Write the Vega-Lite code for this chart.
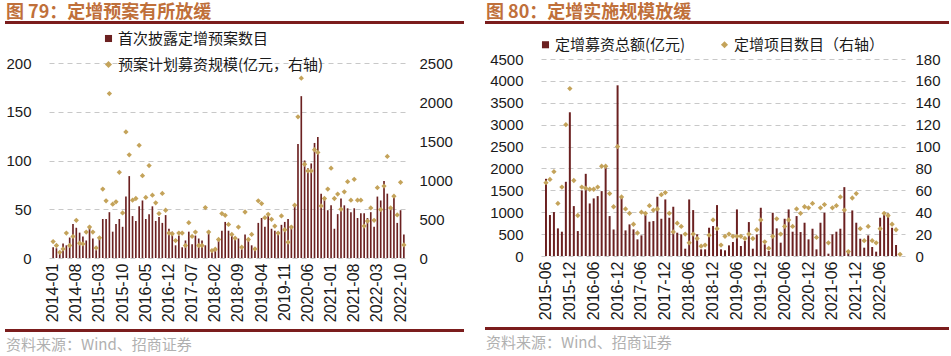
{
  "$schema": "https://vega.github.io/schema/vega-lite/v6.json",
  "background": "white",
  "padding": {"left": 5, "top": 2, "right": 0, "bottom": 0},
  "config": {"view": {"stroke": null}, "font": "Liberation Sans"},
  "resolve": {"scale": {"color": "independent", "shape": "independent"}, "legend": {"color": "independent", "shape": "independent"}},
  "datasets": {
    "left": [
      {"m":"2014-01","n":11,"v":211},{"m":"2014-02","n":10,"v":160},{"m":"2014-03","n":7,"v":73},{"m":"2014-04","n":15,"v":116},{"m":"2014-05","n":13,"v":319},{"m":"2014-06","n":21,"v":160},{"m":"2014-07","n":35,"v":276},{"m":"2014-08","n":31,"v":483},{"m":"2014-09","n":26,"v":190},{"m":"2014-10","n":22,"v":181},{"m":"2014-11","n":18,"v":332},{"m":"2014-12","n":33,"v":397},
      {"m":"2015-01","n":20,"v":332},{"m":"2015-02","n":8,"v":129},{"m":"2015-03","n":20,"v":259},{"m":"2015-04","n":40,"v":884},{"m":"2015-05","n":40,"v":733},{"m":"2015-06","n":47,"v":2108},{"m":"2015-07","n":27,"v":690},{"m":"2015-08","n":35,"v":720},{"m":"2015-09","n":40,"v":1099},{"m":"2015-10","n":32,"v":578},{"m":"2015-11","n":63,"v":1616},{"m":"2015-12","n":84,"v":1323},
      {"m":"2016-01","n":43,"v":741},{"m":"2016-02","n":38,"v":763},{"m":"2016-03","n":53,"v":1444},{"m":"2016-04","n":59,"v":1056},{"m":"2016-05","n":40,"v":776},{"m":"2016-06","n":45,"v":1185},{"m":"2016-07","n":53,"v":806},{"m":"2016-08","n":38,"v":707},{"m":"2016-09","n":42,"v":569},{"m":"2016-10","n":36,"v":828},{"m":"2016-11","n":44,"v":612},{"m":"2016-12","n":30,"v":319},
      {"m":"2017-01","n":27,"v":310},{"m":"2017-02","n":13,"v":224},{"m":"2017-03","n":23,"v":319},{"m":"2017-04","n":11,"v":319},{"m":"2017-05","n":18,"v":160},{"m":"2017-06","n":27,"v":453},{"m":"2017-07","n":14,"v":276},{"m":"2017-08","n":23,"v":332},{"m":"2017-09","n":20,"v":160},{"m":"2017-10","n":18,"v":160},{"m":"2017-11","n":13,"v":647},{"m":"2017-12","n":28,"v":332},
      {"m":"2018-01","n":6,"v":95},{"m":"2018-02","n":8,"v":112},{"m":"2018-03","n":18,"v":237},{"m":"2018-04","n":28,"v":569},{"m":"2018-05","n":37,"v":547},{"m":"2018-06","n":28,"v":431},{"m":"2018-07","n":24,"v":302},{"m":"2018-08","n":21,"v":254},{"m":"2018-09","n":20,"v":397},{"m":"2018-10","n":9,"v":138},{"m":"2018-11","n":24,"v":590},{"m":"2018-12","n":20,"v":237},
      {"m":"2019-01","n":13,"v":302},{"m":"2019-02","n":10,"v":116},{"m":"2019-03","n":36,"v":733},{"m":"2019-04","n":41,"v":698},{"m":"2019-05","n":32,"v":517},{"m":"2019-06","n":44,"v":560},{"m":"2019-07","n":30,"v":496},{"m":"2019-08","n":28,"v":409},{"m":"2019-09","n":27,"v":319},{"m":"2019-10","n":34,"v":539},{"m":"2019-11","n":37,"v":362},{"m":"2019-12","n":40,"v":203},
      {"m":"2020-01","n":33,"v":397},{"m":"2020-02","n":55,"v":677},{"m":"2020-03","n":117,"v":1810},{"m":"2020-04","n":166,"v":2306},{"m":"2020-05","n":100,"v":1202},{"m":"2020-06","n":92,"v":1116},{"m":"2020-07","n":97,"v":1116},{"m":"2020-08","n":118,"v":1388},{"m":"2020-09","n":124,"v":1353},{"m":"2020-10","n":66,"v":668},{"m":"2020-11","n":61,"v":763},{"m":"2020-12","n":49,"v":884},
      {"m":"2021-01","n":54,"v":1151},{"m":"2021-02","n":30,"v":763},{"m":"2021-03","n":45,"v":820},{"m":"2021-04","n":61,"v":625},{"m":"2021-05","n":54,"v":849},{"m":"2021-06","n":51,"v":978},{"m":"2021-07","n":47,"v":741},{"m":"2021-08","n":51,"v":1009},{"m":"2021-09","n":41,"v":741},{"m":"2021-10","n":46,"v":741},{"m":"2021-11","n":46,"v":409},{"m":"2021-12","n":41,"v":474},
      {"m":"2022-01","n":47,"v":642},{"m":"2022-02","n":32,"v":483},{"m":"2022-03","n":63,"v":901},{"m":"2022-04","n":59,"v":621},{"m":"2022-05","n":79,"v":922},{"m":"2022-06","n":66,"v":1302},{"m":"2022-07","n":52,"v":642},{"m":"2022-08","n":64,"v":793},{"m":"2022-09","n":36,"v":552},{"m":"2022-10","n":49,"v":970},{"m":"2022-11","n":24,"v":168}
    ],
    "right": [
      {"m":"2015-06","a":1763,"c":67},{"m":"2015-07","a":935,"c":70},{"m":"2015-08","a":1003,"c":77},{"m":"2015-09","a":631,"c":48},{"m":"2015-10","a":555,"c":63},{"m":"2015-11","a":1695,"c":120},{"m":"2015-12","a":3283,"c":153},
      {"m":"2016-01","a":1140,"c":69},{"m":"2016-02","a":570,"c":37},{"m":"2016-03","a":1497,"c":63},{"m":"2016-04","a":1877,"c":62},{"m":"2016-05","a":1200,"c":61},{"m":"2016-06","a":1315,"c":61},{"m":"2016-07","a":1368,"c":63},{"m":"2016-08","a":1482,"c":82},{"m":"2016-09","a":2029,"c":82},{"m":"2016-10","a":912,"c":57},{"m":"2016-11","a":608,"c":45},{"m":"2016-12","a":3899,"c":100},
      {"m":"2017-01","a":1368,"c":54},{"m":"2017-02","a":585,"c":43},{"m":"2017-03","a":722,"c":39},{"m":"2017-04","a":608,"c":29},{"m":"2017-05","a":380,"c":21},{"m":"2017-06","a":471,"c":40},{"m":"2017-07","a":935,"c":39},{"m":"2017-08","a":783,"c":46},{"m":"2017-09","a":798,"c":42},{"m":"2017-10","a":1353,"c":43},{"m":"2017-11","a":851,"c":56},{"m":"2017-12","a":1292,"c":58},
      {"m":"2018-01","a":874,"c":39},{"m":"2018-02","a":1125,"c":22},{"m":"2018-03","a":532,"c":30},{"m":"2018-04","a":494,"c":27},{"m":"2018-05","a":167,"c":20},{"m":"2018-06","a":1292,"c":12},{"m":"2018-07","a":1049,"c":20},{"m":"2018-08","a":494,"c":16},{"m":"2018-09","a":152,"c":9},{"m":"2018-10","a":152,"c":10},{"m":"2018-11","a":646,"c":19},{"m":"2018-12","a":684,"c":33},
      {"m":"2019-01","a":1163,"c":25},{"m":"2019-02","a":152,"c":10},{"m":"2019-03","a":130,"c":18},{"m":"2019-04","a":243,"c":20},{"m":"2019-05","a":319,"c":18},{"m":"2019-06","a":1064,"c":18},{"m":"2019-07","a":228,"c":18},{"m":"2019-08","a":342,"c":16},{"m":"2019-09","a":775,"c":20},{"m":"2019-10","a":167,"c":16},{"m":"2019-11","a":494,"c":24},{"m":"2019-12","a":1102,"c":33},
      {"m":"2020-01","a":266,"c":13},{"m":"2020-02","a":114,"c":7},{"m":"2020-03","a":988,"c":18},{"m":"2020-04","a":631,"c":34},{"m":"2020-05","a":304,"c":20},{"m":"2020-06","a":851,"c":27},{"m":"2020-07","a":1064,"c":33},{"m":"2020-08","a":555,"c":27},{"m":"2020-09","a":912,"c":43},{"m":"2020-10","a":547,"c":39},{"m":"2020-11","a":760,"c":45},{"m":"2020-12","a":380,"c":44},
      {"m":"2021-01","a":623,"c":48},{"m":"2021-02","a":152,"c":17},{"m":"2021-03","a":760,"c":44},{"m":"2021-04","a":988,"c":47},{"m":"2021-05","a":53,"c":12},{"m":"2021-06","a":494,"c":44},{"m":"2021-07","a":555,"c":46},{"m":"2021-08","a":623,"c":54},{"m":"2021-09","a":1573,"c":42},{"m":"2021-10","a":76,"c":4},{"m":"2021-11","a":1041,"c":53},{"m":"2021-12","a":760,"c":57},
      {"m":"2022-01","a":395,"c":25},{"m":"2022-02","a":190,"c":14},{"m":"2022-03","a":471,"c":27},{"m":"2022-04","a":205,"c":14},{"m":"2022-05","a":99,"c":12},{"m":"2022-06","a":874,"c":25},{"m":"2022-07","a":988,"c":39},{"m":"2022-08","a":973,"c":37},{"m":"2022-09","a":646,"c":29},{"m":"2022-10","a":251,"c":24},{"m":"2022-11","a":0,"c":1.5}
    ]
  },
  "hconcat": [
    {
      "spacing": 27,
      "vconcat": [
        {
          "data": {"values": [{}]},
          "width": 457, "height": 1,
          "view": {"stroke": "#7b1d1d", "strokeWidth": 2},
          "title": {"text": "图 79：定增预案有所放缓", "anchor": "start", "font": "Noto Sans CJK SC", "fontSize": 18, "fontWeight": "bold", "color": "#c0703a", "offset": -5},
          "mark": {"type": "text"},
          "encoding": {"text": {"value": ""}}
        },
        {
          "spacing": 1,
          "vconcat": [
            {
              "data": {"name": "left"},
              "width": 457, "height": 195,
              "layer": [
                {
                  "mark": {"type": "bar"},
                  "encoding": {
                    "x": {"field": "m", "type": "ordinal", "sort": null, "scale": {"paddingInner": 0.5, "paddingOuter": 1, "range": [43, 402]},
                      "axis": {"title": null, "values": ["2014-01","2014-08","2015-03","2015-10","2016-05","2016-12","2017-07","2018-02","2018-09","2019-04","2019-11","2020-06","2021-01","2021-08","2022-03","2022-10"],
                        "labelAngle": -90, "labelFontSize": 16, "labelColor": "#1a1a1a", "ticks": false, "domain": false, "labelPadding": 5, "grid": false}},
                    "y": {"field": "n", "type": "quantitative", "scale": {"domain": [0, 200]},
                      "axis": {"title": null, "values": [0, 50, 100, 150, 200], "format": "d", "offset": -43, "grid": true, "gridDash": [5, 4], "gridColor": "#c8c8c8", "domain": false, "ticks": false, "labelFontSize": 15, "labelPadding": 18, "labelColor": "#1a1a1a"}},
                    "color": {"datum": "首次披露定增预案数目",
                      "scale": {"domain": ["首次披露定增预案数目", "预案计划募资规模(亿元，右轴)"], "range": ["#6b2020", "#c4a35a"]},
                      "legend": {"orient": "none", "legendX": 95, "legendY": 9, "direction": "vertical", "title": null, "labelFont": "Noto Sans CJK SC", "labelFontSize": 15, "labelColor": "#1a1a1a", "labelOffset": 2, "symbolSize": 50, "rowPadding": 10, "labelLimit": 400, "padding": 0}}
                  }
                },
                {
                  "mark": {"type": "point", "filled": true, "size": 28, "opacity": 1},
                  "encoding": {
                    "x": {"field": "m", "type": "ordinal", "sort": null},
                    "y": {"field": "v", "type": "quantitative", "scale": {"domain": [0, 2500]},
                      "axis": {"orient": "right", "offset": -55, "title": null, "values": [0, 500, 1000, 1500, 2000, 2500], "format": "d", "grid": false, "domain": false, "ticks": false, "labelFontSize": 15, "labelPadding": 11, "labelColor": "#1a1a1a"}},
                    "color": {"datum": "预案计划募资规模(亿元，右轴)"},
                    "shape": {"datum": "预案计划募资规模(亿元，右轴)",
                      "scale": {"domain": ["首次披露定增预案数目", "预案计划募资规模(亿元，右轴)"], "range": ["square", "diamond"]},
                      "legend": {"orient": "none", "legendX": 95, "legendY": 9, "direction": "vertical", "title": null, "labelFont": "Noto Sans CJK SC", "labelFontSize": 15, "labelColor": "#1a1a1a", "labelOffset": 2, "symbolSize": 50, "rowPadding": 10, "labelLimit": 400, "padding": 0}}
                  }
                }
              ],
              "resolve": {"scale": {"y": "independent"}}
            },
            {
              "data": {"values": [{}]},
              "width": 457, "height": 1,
              "view": {"stroke": "#7b1d1d", "strokeWidth": 2},
              "title": {"text": "资料来源：Wind、招商证券", "orient": "bottom", "anchor": "start", "font": "Noto Sans CJK SC", "fontSize": 15, "fontWeight": "normal", "color": "#b0b0b0", "offset": 2},
              "mark": {"type": "text"},
              "encoding": {"text": {"value": ""}}
            }
          ]
        }
      ]
    },
    {
      "spacing": 23,
      "vconcat": [
        {
          "data": {"values": [{}]},
          "width": 462, "height": 1,
          "view": {"stroke": "#7b1d1d", "strokeWidth": 2},
          "title": {"text": "图 80：定增实施规模放缓", "anchor": "start", "font": "Noto Sans CJK SC", "fontSize": 18, "fontWeight": "bold", "color": "#c0703a", "offset": -5},
          "mark": {"type": "text"},
          "encoding": {"text": {"value": ""}}
        },
        {
          "spacing": 1,
          "vconcat": [
            {
              "data": {"name": "right"},
              "width": 462, "height": 197,
              "layer": [
                {
                  "mark": {"type": "bar"},
                  "encoding": {
                    "x": {"field": "m", "type": "ordinal", "sort": null, "scale": {"paddingInner": 0.5, "paddingOuter": 1, "range": [55, 419]},
                      "axis": {"title": null, "values": ["2015-06","2015-12","2016-06","2016-12","2017-06","2017-12","2018-06","2018-12","2019-06","2019-12","2020-06","2020-12","2021-06","2021-12","2022-06"],
                        "labelAngle": -90, "labelFontSize": 16, "labelColor": "#1a1a1a", "ticks": false, "domain": false, "labelPadding": 5, "grid": false}},
                    "y": {"field": "a", "type": "quantitative", "scale": {"domain": [0, 4500]},
                      "axis": {"title": null, "values": [0, 500, 1000, 1500, 2000, 2500, 3000, 3500, 4000, 4500], "format": "d", "offset": -55, "grid": true, "gridDash": [5, 4], "gridColor": "#c8c8c8", "domain": false, "ticks": false, "labelFontSize": 15, "labelPadding": 18, "labelColor": "#1a1a1a"}},
                    "color": {"datum": "定增募资总额(亿元)",
                      "scale": {"domain": ["定增募资总额(亿元)", "定增项目数目（右轴）"], "range": ["#6b2020", "#c4a35a"]},
                      "legend": {"orient": "none", "legendX": 52, "legendY": 15, "direction": "horizontal", "title": null, "labelFont": "Noto Sans CJK SC", "labelFontSize": 15, "labelColor": "#1a1a1a", "labelOffset": 2, "symbolSize": 50, "columnPadding": 31, "labelLimit": 400, "padding": 0}}
                  }
                },
                {
                  "mark": {"type": "point", "filled": true, "size": 28, "opacity": 1},
                  "encoding": {
                    "x": {"field": "m", "type": "ordinal", "sort": null},
                    "y": {"field": "c", "type": "quantitative", "scale": {"domain": [0, 180]},
                      "axis": {"orient": "right", "offset": -43, "title": null, "values": [0, 20, 40, 60, 80, 100, 120, 140, 160, 180], "format": "d", "grid": false, "domain": false, "ticks": false, "labelFontSize": 15, "labelPadding": 10, "labelColor": "#1a1a1a"}},
                    "color": {"datum": "定增项目数目（右轴）"},
                    "shape": {"datum": "定增项目数目（右轴）",
                      "scale": {"domain": ["定增募资总额(亿元)", "定增项目数目（右轴）"], "range": ["square", "diamond"]},
                      "legend": {"orient": "none", "legendX": 52, "legendY": 15, "direction": "horizontal", "title": null, "labelFont": "Noto Sans CJK SC", "labelFontSize": 15, "labelColor": "#1a1a1a", "labelOffset": 2, "symbolSize": 50, "columnPadding": 31, "labelLimit": 400, "padding": 0}}
                  }
                }
              ],
              "resolve": {"scale": {"y": "independent"}}
            },
            {
              "data": {"values": [{}]},
              "width": 462, "height": 1,
              "view": {"stroke": "#7b1d1d", "strokeWidth": 2},
              "title": {"text": "资料来源：Wind、招商证券", "orient": "bottom", "anchor": "start", "font": "Noto Sans CJK SC", "fontSize": 15, "fontWeight": "normal", "color": "#b0b0b0", "offset": 2},
              "mark": {"type": "text"},
              "encoding": {"text": {"value": ""}}
            }
          ]
        }
      ]
    }
  ],
  "spacing": 21
}
